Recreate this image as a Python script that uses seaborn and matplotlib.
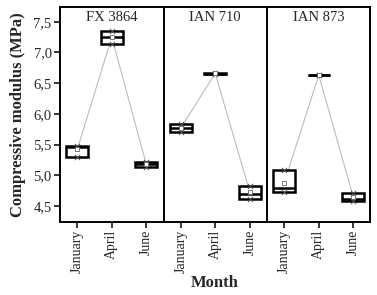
import numpy as np
import pandas as pd
import matplotlib
matplotlib.use("Agg")
import matplotlib.pyplot as plt
import matplotlib.ticker as mticker
import seaborn as sns

cultivars = ["FX 3864", "IAN 710", "IAN 873"]
months = ["January", "April", "June"]

# box limits (min / max), medians and means
box_low = {
    "FX 3864": [5.30, 7.13, 5.14],
    "IAN 710": [5.71, 6.65, 4.62],
    "IAN 873": [4.72, 6.625, 4.58],
}
box_median = {
    "FX 3864": [5.455, 7.25, 5.18],
    "IAN 710": [5.77, 6.655, 4.69],
    "IAN 873": [4.79, 6.63, 4.61],
}
box_high = {
    "FX 3864": [5.48, 7.35, 5.22],
    "IAN 710": [5.83, 6.665, 4.82],
    "IAN 873": [5.08, 6.64, 4.71],
}
means = {
    "FX 3864": [5.42, 7.25, 5.18],
    "IAN 710": [5.77, 6.66, 4.73],
    "IAN 873": [4.88, 6.63, 4.65],
}

rows = []
for c in cultivars:
    for i, m in enumerate(months):
        lo, md, hi = box_low[c][i], box_median[c][i], box_high[c][i]
        for v in [lo, lo, md, hi, hi]:
            rows.append({"Cultivar": c, "Month": m, "value": v})
df = pd.DataFrame(rows)

mrows = []
for c in cultivars:
    for i, m in enumerate(months):
        mrows.append({"Cultivar": c, "Month": m, "pos": i, "mean": means[c][i],
                      "lo": box_low[c][i], "hi": box_high[c][i]})
mdf = pd.DataFrame(mrows)

sns.set_style("ticks")
plt.rcParams["font.family"] = ["Liberation Serif", "DejaVu Serif"]

fig = plt.figure(figsize=(3.77, 2.95), dpi=100)
left, right, bottom, top = 60 / 377, 370.5 / 377, 1 - 221.7 / 295, 1 - 7 / 295
w = (right - left) / 3
axes = []
for k, c in enumerate(cultivars):
    ax = fig.add_axes([left + k * w, bottom, w, top - bottom])
    axes.append(ax)
    sub = df[df["Cultivar"] == c]
    msub = mdf[mdf["Cultivar"] == c]
    sns.lineplot(data=msub, x="pos", y="mean", color="#bdbdbd", linewidth=0.8,
                 ax=ax, zorder=1)
    sns.boxplot(data=sub, x="Month", y="value", order=months, width=0.65,
                color="white", linecolor="black", linewidth=1.8, showcaps=False,
                ax=ax, zorder=2, fliersize=0)
    pts = pd.concat([msub[["pos", "lo"]].rename(columns={"lo": "v"}),
                     msub[["pos", "hi"]].rename(columns={"hi": "v"})])
    sns.scatterplot(data=pts, x="pos", y="v", marker="x", s=14, color="#555555",
                    linewidth=0.7, ax=ax, zorder=4)
    sns.scatterplot(data=msub, x="pos", y="mean", marker="s", s=10,
                    facecolor="white", edgecolor="#666666", linewidth=0.6,
                    ax=ax, zorder=5)
    ax.set_xlim(-0.5, 2.5)
    ax.set_ylim(4.244, 7.74)
    ax.set_xticks(range(3))
    ax.set_xticklabels(months, rotation=90, fontsize=10)
    ax.set_xlabel("")
    ax.set_ylabel("")
    ax.text(0.5, 0.98, c, transform=ax.transAxes, ha="center", va="top",
            fontsize=10.5)
    for s in ax.spines.values():
        s.set_linewidth(1.4)
        s.set_color("black")
        s.set_visible(True)
    ax.tick_params(axis="x", length=4, width=1.3, direction="out", pad=2)
    ax.yaxis.set_major_locator(mticker.MultipleLocator(0.5))
    if k == 0:
        ax.yaxis.set_major_formatter(mticker.FuncFormatter(
            lambda v, p: f"{v:.1f}".replace(".", ",")))
        ax.tick_params(axis="y", length=4, width=1.3, labelsize=10.5, pad=2)
        ax.set_ylabel("Compressive modulus (MPa)", fontsize=12,
                      fontweight="bold", labelpad=5)
    else:
        ax.tick_params(axis="y", left=False, labelleft=False)

fig.text(215 / 377, 1 - 283 / 295, "Month", ha="center", va="center",
         fontsize=12, fontweight="bold")

fig.savefig("out.png", dpi=100)
